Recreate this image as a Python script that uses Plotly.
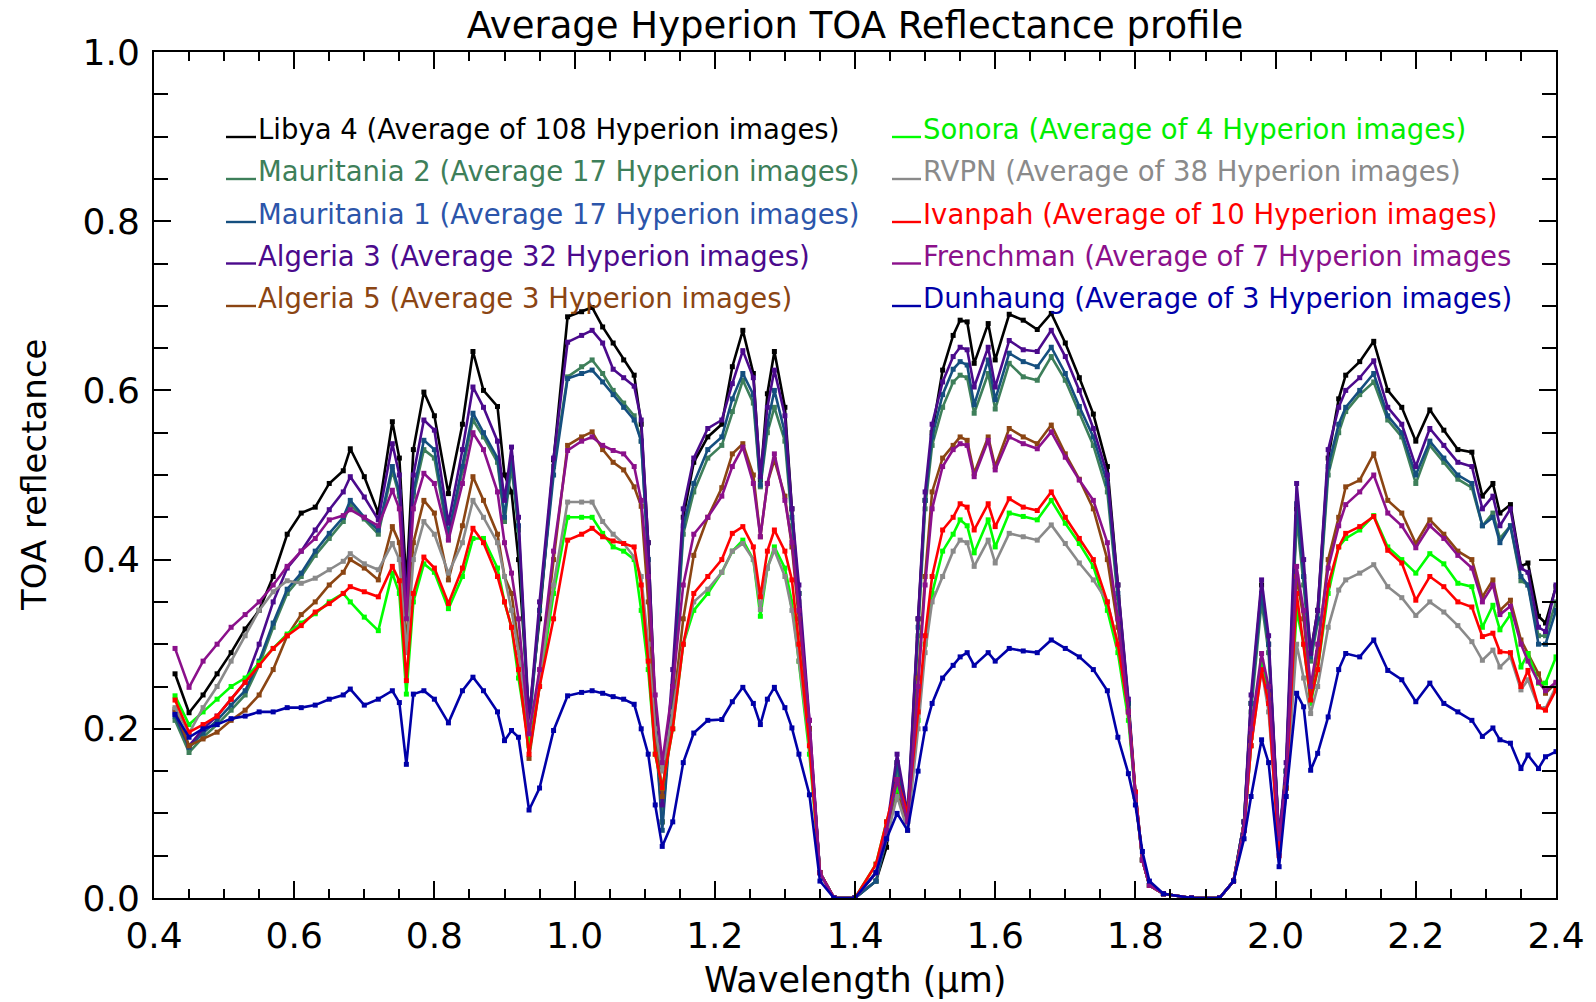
import plotly.graph_objects as go

# Wavelength grid (micrometres)
wavelength = [
    0.43, 0.45, 0.47, 0.49, 0.51, 0.53, 0.55, 0.57, 0.59, 0.61,
    0.63, 0.65, 0.67, 0.68, 0.70, 0.72, 0.74, 0.75, 0.76, 0.77,
    0.785, 0.80, 0.82, 0.84, 0.855, 0.87, 0.89, 0.90, 0.91, 0.92,
    0.935, 0.95, 0.97, 0.99, 1.01, 1.025, 1.04, 1.055, 1.07, 1.085,
    1.095, 1.105, 1.115, 1.125, 1.14, 1.155, 1.17, 1.19, 1.21, 1.225,
    1.24, 1.255, 1.265, 1.275, 1.285, 1.30, 1.31, 1.32, 1.335, 1.35,
    1.37, 1.40, 1.43, 1.445, 1.46, 1.475, 1.49, 1.50, 1.51, 1.525,
    1.54, 1.55, 1.56, 1.57, 1.59, 1.60, 1.62, 1.64, 1.66, 1.68,
    1.70, 1.72, 1.74, 1.76, 1.775, 1.79, 1.80, 1.81, 1.82, 1.84,
    1.88, 1.92, 1.94, 1.955, 1.965, 1.98, 1.99, 2.005, 2.015, 2.03,
    2.04, 2.05, 2.06, 2.075, 2.09, 2.10, 2.12, 2.14, 2.16, 2.18,
    2.20, 2.22, 2.24, 2.26, 2.28, 2.295, 2.31, 2.32, 2.335, 2.35,
    2.36, 2.375, 2.385, 2.40,
]

libya4 = [
    0.265, 0.219, 0.24, 0.265, 0.29, 0.318, 0.34, 0.38, 0.43, 0.455,
    0.462, 0.49, 0.505, 0.531, 0.498, 0.455, 0.563, 0.52, 0.37, 0.53,
    0.598, 0.57, 0.478, 0.56, 0.646, 0.60, 0.581, 0.50, 0.48, 0.40,
    0.215, 0.33, 0.518, 0.687, 0.693, 0.698, 0.675, 0.656, 0.636, 0.618,
    0.56, 0.42, 0.22, 0.09, 0.25, 0.45, 0.515, 0.545, 0.56, 0.628,
    0.671, 0.62, 0.494, 0.596, 0.646, 0.58, 0.46, 0.36, 0.20, 0.03,
    0.0, 0.0, 0.02, 0.06, 0.16, 0.09, 0.33, 0.47, 0.55, 0.624,
    0.665, 0.683, 0.681, 0.632, 0.679, 0.636, 0.69, 0.683, 0.672, 0.691,
    0.656, 0.615, 0.572, 0.51, 0.37, 0.23, 0.125, 0.045, 0.015, 0.005,
    0.0, 0.0, 0.02, 0.09, 0.23, 0.37, 0.30, 0.07, 0.15, 0.46,
    0.38, 0.29, 0.34, 0.52, 0.59, 0.618, 0.634, 0.658, 0.60, 0.58,
    0.54, 0.577, 0.553, 0.53, 0.527, 0.475, 0.49, 0.455, 0.465, 0.392,
    0.396, 0.333, 0.325, 0.368,
]

mauritania2 = [
    0.21, 0.172, 0.19, 0.205, 0.222, 0.24, 0.275, 0.32, 0.36, 0.38,
    0.405, 0.425, 0.445, 0.465, 0.448, 0.43, 0.505, 0.475, 0.335, 0.475,
    0.53, 0.52, 0.425, 0.505, 0.565, 0.545, 0.515, 0.445, 0.51, 0.435,
    0.20, 0.34, 0.51, 0.616, 0.628, 0.636, 0.62, 0.60, 0.585, 0.57,
    0.54, 0.40, 0.20, 0.09, 0.24, 0.43, 0.48, 0.52, 0.535, 0.575,
    0.612, 0.585, 0.486, 0.55, 0.58, 0.54, 0.44, 0.35, 0.20, 0.03,
    0.0, 0.0, 0.02, 0.07, 0.15, 0.09, 0.31, 0.46, 0.535, 0.58,
    0.61, 0.618, 0.615, 0.573, 0.62, 0.578, 0.632, 0.616, 0.612, 0.64,
    0.612, 0.573, 0.535, 0.48, 0.355, 0.225, 0.12, 0.045, 0.015, 0.005,
    0.0, 0.0, 0.02, 0.09, 0.22, 0.35, 0.29, 0.07, 0.15, 0.45,
    0.37, 0.28, 0.325, 0.50, 0.55, 0.575, 0.595, 0.61, 0.565, 0.545,
    0.49, 0.535, 0.515, 0.495, 0.485, 0.44, 0.455, 0.425, 0.44, 0.375,
    0.37, 0.31, 0.31, 0.35,
]

mauritania1 = [
    0.215, 0.178, 0.195, 0.21, 0.228, 0.245, 0.28, 0.325, 0.365, 0.384,
    0.41, 0.431, 0.45, 0.47, 0.45, 0.435, 0.51, 0.48, 0.34, 0.48,
    0.541, 0.53, 0.43, 0.51, 0.573, 0.55, 0.52, 0.45, 0.52, 0.44,
    0.20, 0.34, 0.50, 0.614, 0.62, 0.624, 0.61, 0.595, 0.58, 0.565,
    0.54, 0.40, 0.20, 0.08, 0.24, 0.44, 0.49, 0.53, 0.545, 0.59,
    0.62, 0.595, 0.488, 0.56, 0.60, 0.55, 0.45, 0.36, 0.20, 0.03,
    0.0, 0.0, 0.02, 0.07, 0.16, 0.09, 0.32, 0.47, 0.545, 0.595,
    0.625, 0.634, 0.63, 0.583, 0.636, 0.589, 0.644, 0.634, 0.628, 0.651,
    0.62, 0.581, 0.545, 0.49, 0.36, 0.23, 0.12, 0.045, 0.015, 0.005,
    0.0, 0.0, 0.02, 0.09, 0.23, 0.36, 0.30, 0.07, 0.15, 0.466,
    0.38, 0.285, 0.33, 0.51, 0.56, 0.58, 0.60, 0.62, 0.57, 0.55,
    0.50, 0.54, 0.52, 0.50, 0.49, 0.44, 0.45, 0.42, 0.44, 0.38,
    0.37, 0.30, 0.30, 0.34,
]

algeria3 = [
    0.22, 0.18, 0.20, 0.215, 0.235, 0.255, 0.30, 0.35, 0.39, 0.41,
    0.435, 0.459, 0.48, 0.498, 0.474, 0.447, 0.537, 0.50, 0.35, 0.50,
    0.565, 0.553, 0.443, 0.53, 0.604, 0.58, 0.54, 0.47, 0.533, 0.45,
    0.21, 0.35, 0.52, 0.657, 0.665, 0.671, 0.656, 0.625, 0.615, 0.605,
    0.565, 0.42, 0.22, 0.11, 0.27, 0.46, 0.52, 0.555, 0.565, 0.608,
    0.647, 0.615, 0.498, 0.58, 0.624, 0.57, 0.46, 0.37, 0.21, 0.03,
    0.0, 0.0, 0.03, 0.08, 0.17, 0.10, 0.33, 0.48, 0.56, 0.61,
    0.64, 0.651, 0.648, 0.604, 0.651, 0.604, 0.659, 0.648, 0.646, 0.671,
    0.64, 0.60, 0.555, 0.50, 0.37, 0.235, 0.125, 0.045, 0.015, 0.005,
    0.0, 0.0, 0.02, 0.09, 0.24, 0.376, 0.31, 0.07, 0.16, 0.49,
    0.40, 0.289, 0.34, 0.53, 0.58, 0.60, 0.615, 0.635, 0.58, 0.56,
    0.51, 0.555, 0.535, 0.515, 0.51, 0.46, 0.475, 0.44, 0.46, 0.39,
    0.385, 0.32, 0.315, 0.37,
]

algeria5 = [
    0.223, 0.18, 0.188, 0.196, 0.21, 0.222, 0.24, 0.27, 0.31, 0.335,
    0.35, 0.37, 0.385, 0.40, 0.39, 0.376, 0.439, 0.42, 0.30, 0.42,
    0.47, 0.455, 0.376, 0.44, 0.498, 0.47, 0.43, 0.38, 0.36, 0.30,
    0.165, 0.25, 0.40, 0.535, 0.545, 0.551, 0.53, 0.515, 0.506, 0.486,
    0.463, 0.35, 0.20, 0.12, 0.22, 0.33, 0.405, 0.45, 0.485, 0.525,
    0.537, 0.50, 0.427, 0.49, 0.518, 0.475, 0.415, 0.33, 0.20, 0.03,
    0.0, 0.0, 0.03, 0.07, 0.13, 0.08, 0.26, 0.38, 0.48, 0.52,
    0.535, 0.545, 0.541, 0.502, 0.545, 0.51, 0.555, 0.545, 0.537, 0.559,
    0.525, 0.495, 0.46, 0.40, 0.32, 0.22, 0.12, 0.045, 0.015, 0.005,
    0.0, 0.0, 0.02, 0.08, 0.19, 0.28, 0.24, 0.06, 0.13, 0.38,
    0.33, 0.24, 0.29, 0.40, 0.45, 0.486, 0.494, 0.525, 0.47, 0.455,
    0.419, 0.447, 0.43, 0.41, 0.40, 0.356, 0.376, 0.34, 0.352, 0.305,
    0.289, 0.265, 0.242, 0.254,
]

sonora = [
    0.239, 0.205, 0.22, 0.235, 0.25, 0.26, 0.278, 0.295, 0.312, 0.325,
    0.336, 0.35, 0.36, 0.35, 0.332, 0.316, 0.384, 0.36, 0.241, 0.35,
    0.395, 0.385, 0.342, 0.38, 0.425, 0.425, 0.39, 0.35, 0.32, 0.26,
    0.18, 0.25, 0.36, 0.45, 0.45, 0.45, 0.431, 0.415, 0.41, 0.40,
    0.34, 0.27, 0.17, 0.13, 0.20, 0.30, 0.34, 0.36, 0.385, 0.41,
    0.423, 0.40, 0.333, 0.39, 0.415, 0.39, 0.35, 0.28, 0.17, 0.03,
    0.0, 0.0, 0.04, 0.09, 0.13, 0.10, 0.21, 0.30, 0.36, 0.41,
    0.43, 0.447, 0.44, 0.408, 0.447, 0.415, 0.455, 0.451, 0.447, 0.47,
    0.443, 0.419, 0.392, 0.34, 0.29, 0.21, 0.12, 0.045, 0.015, 0.005,
    0.0, 0.0, 0.02, 0.08, 0.18, 0.28, 0.23, 0.06, 0.13, 0.34,
    0.30, 0.23, 0.27, 0.36, 0.415, 0.425, 0.435, 0.452, 0.415, 0.40,
    0.384, 0.407, 0.395, 0.372, 0.368, 0.32, 0.346, 0.317, 0.335, 0.273,
    0.289, 0.254, 0.254, 0.285,
]

rvpn = [
    0.225, 0.195, 0.225, 0.25, 0.28, 0.31, 0.34, 0.362, 0.375, 0.372,
    0.378, 0.388, 0.398, 0.407, 0.395, 0.388, 0.419, 0.40, 0.29, 0.40,
    0.445, 0.43, 0.384, 0.42, 0.47, 0.45, 0.42, 0.38, 0.34, 0.29,
    0.20, 0.26, 0.37, 0.468, 0.468, 0.468, 0.445, 0.43, 0.419, 0.403,
    0.38, 0.30, 0.20, 0.15, 0.22, 0.30, 0.35, 0.365, 0.385, 0.41,
    0.419, 0.40, 0.341, 0.39, 0.411, 0.38, 0.34, 0.28, 0.18, 0.03,
    0.0, 0.0, 0.03, 0.07, 0.12, 0.08, 0.20, 0.29, 0.35, 0.38,
    0.41, 0.423, 0.42, 0.392, 0.423, 0.396, 0.431, 0.427, 0.423, 0.441,
    0.419, 0.396, 0.376, 0.35, 0.30, 0.22, 0.12, 0.045, 0.015, 0.005,
    0.0, 0.0, 0.02, 0.08, 0.18, 0.27, 0.22, 0.06, 0.12, 0.30,
    0.26, 0.218, 0.25, 0.32, 0.364, 0.376, 0.384, 0.394, 0.368, 0.355,
    0.334, 0.35, 0.338, 0.322, 0.303, 0.281, 0.293, 0.273, 0.285, 0.246,
    0.258, 0.226, 0.224, 0.25,
]

ivanpah = [
    0.234, 0.196, 0.205, 0.215, 0.235, 0.255, 0.275, 0.295, 0.31, 0.322,
    0.338, 0.348, 0.36, 0.368, 0.362, 0.356, 0.392, 0.375, 0.257, 0.36,
    0.403, 0.39, 0.348, 0.39, 0.437, 0.42, 0.38, 0.35, 0.32, 0.27,
    0.17, 0.25, 0.33, 0.423, 0.43, 0.437, 0.427, 0.422, 0.419, 0.415,
    0.37, 0.28, 0.17, 0.13, 0.20, 0.30, 0.36, 0.38, 0.40, 0.431,
    0.439, 0.415, 0.356, 0.41, 0.435, 0.41, 0.376, 0.30, 0.18, 0.03,
    0.0, 0.0, 0.04, 0.09, 0.14, 0.10, 0.22, 0.31, 0.38, 0.435,
    0.45, 0.466, 0.462, 0.435, 0.466, 0.439, 0.472, 0.462, 0.458, 0.48,
    0.45, 0.425, 0.40, 0.35, 0.30, 0.22, 0.125, 0.045, 0.015, 0.005,
    0.0, 0.0, 0.02, 0.08, 0.18, 0.27, 0.23, 0.05, 0.13, 0.36,
    0.30, 0.234, 0.27, 0.37, 0.415, 0.431, 0.439, 0.451, 0.411, 0.396,
    0.352, 0.38, 0.368, 0.35, 0.344, 0.309, 0.313, 0.291, 0.29, 0.25,
    0.269, 0.226, 0.222, 0.246,
]

frenchman = [
    0.295, 0.249, 0.28, 0.30, 0.32, 0.335, 0.35, 0.37, 0.392, 0.41,
    0.425, 0.447, 0.452, 0.459, 0.45, 0.44, 0.482, 0.46, 0.33, 0.46,
    0.502, 0.49, 0.423, 0.49, 0.55, 0.53, 0.48, 0.42, 0.384, 0.33,
    0.194, 0.27, 0.41, 0.529, 0.54, 0.545, 0.535, 0.529, 0.525, 0.51,
    0.47, 0.38, 0.24, 0.16, 0.25, 0.37, 0.43, 0.45, 0.475, 0.51,
    0.533, 0.49, 0.427, 0.49, 0.525, 0.47, 0.42, 0.34, 0.21, 0.03,
    0.0, 0.0, 0.03, 0.08, 0.14, 0.09, 0.25, 0.37, 0.46, 0.51,
    0.53, 0.537, 0.535, 0.498, 0.541, 0.506, 0.545, 0.537, 0.531, 0.551,
    0.521, 0.494, 0.47, 0.42, 0.33, 0.22, 0.12, 0.045, 0.015, 0.005,
    0.0, 0.0, 0.02, 0.08, 0.20, 0.289, 0.25, 0.07, 0.14, 0.392,
    0.34, 0.25, 0.30, 0.39, 0.44, 0.465, 0.48, 0.50, 0.455, 0.44,
    0.414, 0.44, 0.425, 0.405, 0.39, 0.35, 0.37, 0.335, 0.345, 0.30,
    0.28, 0.255, 0.245, 0.255,
]

dunhaung = [
    0.217, 0.19, 0.20, 0.205, 0.212, 0.215, 0.22, 0.22, 0.225, 0.225,
    0.228, 0.235, 0.24, 0.247, 0.228, 0.235, 0.245, 0.231, 0.158, 0.241,
    0.245, 0.235, 0.207, 0.245, 0.261, 0.245, 0.22, 0.186, 0.198, 0.19,
    0.104, 0.13, 0.198, 0.239, 0.243, 0.245, 0.242, 0.238, 0.235, 0.229,
    0.20, 0.17, 0.11, 0.061, 0.09, 0.16, 0.195, 0.21, 0.211, 0.232,
    0.249, 0.23, 0.205, 0.235, 0.249, 0.225, 0.201, 0.17, 0.122, 0.02,
    0.0, 0.0, 0.03, 0.07, 0.10, 0.08, 0.15, 0.20, 0.23, 0.26,
    0.275, 0.285, 0.29, 0.275, 0.29, 0.28, 0.295, 0.292, 0.29, 0.305,
    0.295, 0.285, 0.27, 0.245, 0.19, 0.147, 0.11, 0.055, 0.02, 0.005,
    0.0, 0.0, 0.02, 0.07, 0.12, 0.187, 0.16, 0.037, 0.12, 0.242,
    0.226, 0.151, 0.171, 0.214, 0.27, 0.289, 0.285, 0.305, 0.269, 0.258,
    0.232, 0.254, 0.23, 0.22, 0.21, 0.191, 0.201, 0.187, 0.183, 0.153,
    0.169, 0.153, 0.167, 0.173,
]

series_names = [
    "Libya 4 (Average of 108 Hyperion images)",
    "Mauritania 2 (Average 17 Hyperion images)",
    "Mauritania 1 (Average 17 Hyperion images)",
    "Algeria 3 (Average 32 Hyperion images)",
    "Algeria 5 (Average 3 Hyperion images)",
    "Sonora (Average of 4 Hyperion images)",
    "RVPN (Average of 38 Hyperion images)",
    "Ivanpah (Average of 10 Hyperion images)",
    "Frenchman (Average of 7 Hyperion images",
    "Dunhaung (Average of 3 Hyperion images)",
]
series_values = [libya4, mauritania2, mauritania1, algeria3, algeria5,
                 sonora, rvpn, ivanpah, frenchman, dunhaung]
line_colors = ["#000000", "#3e7f5a", "#154f7f", "#4b0a8c", "#8b4513",
               "#00ff00", "#8a8a8a", "#ff0000", "#8b108b", "#0000a8"]
text_colors = ["#000000", "#3e7f5a", "#2c55aa", "#4b0a8c", "#8b4513",
               "#00ee00", "#8a8a8a", "#ff0000", "#8b108b", "#0000a8"]

for v in series_values:
    if len(v) != len(wavelength):
        raise ValueError(f"length mismatch {len(v)} vs {len(wavelength)}")

FONT = "DejaVu Sans"
fig = go.Figure()
for name, vals, col in zip(series_names, series_values, line_colors):
    fig.add_trace(go.Scatter(
        x=wavelength, y=vals, name=name, mode="lines+markers",
        line=dict(color=col, width=2.6),
        marker=dict(symbol="square", size=5, color=col),
        showlegend=False,
    ))

W, H = 1596, 1002
L, T = 154, 52
PW, PH = 1402, 846
fig.update_layout(
    width=W, height=H,
    margin=dict(l=L, t=T, r=W - L - PW, b=H - T - PH, pad=0),
    paper_bgcolor="white", plot_bgcolor="white",
    font=dict(family=FONT, color="black"),
    title=dict(text="Average Hyperion TOA Reflectance profile",
               x=0.5, xref="paper", xanchor="center",
               y=1 - 25 / H, yref="container", yanchor="middle",
               font=dict(size=37, family=FONT, color="black")),
    showlegend=False,
)

axis_common = dict(
    showline=True, linecolor="black", linewidth=2, mirror="ticks",
    ticks="inside", tickcolor="black", tickwidth=1.6, ticklen=17,
    showgrid=False, zeroline=False,
    tickfont=dict(size=36, family=FONT, color="black"),
)
fig.update_xaxes(range=[0.4, 2.4], dtick=0.2, tick0=0.4, tickformat=".1f",
                 minor=dict(dtick=0.05, ticklen=9, ticks="inside",
                            tickcolor="black", tickwidth=1.6),
                 ticklabelstandoff=5, **axis_common)
fig.update_yaxes(range=[0, 1.0], dtick=0.2, tick0=0, tickformat=".1f",
                 minor=dict(dtick=0.05, ticklen=14, ticks="inside",
                            tickcolor="black", tickwidth=1.6),
                 ticklabelstandoff=5, **axis_common)

# axis titles
fig.add_annotation(text="Wavelength (\u00b5m)", xref="paper", yref="paper",
                   x=0.5, y=-(980 - 898) / PH, xanchor="center", yanchor="middle",
                   showarrow=False, font=dict(size=35, family=FONT, color="black"))
fig.add_annotation(text="TOA reflectance", xref="paper", yref="paper",
                   x=-(154 - 34) / PW, y=(898 - 475) / PH, xanchor="center",
                   yanchor="middle", textangle=-90, showarrow=False,
                   font=dict(size=34, family=FONT, color="black"))

# legend drawn as annotations + short line samples (two columns of five)
row_px = [129, 171, 214, 255.5, 298]
col_line_px = [(226, 256), (892, 921)]
for i, (name, col, tcol) in enumerate(zip(series_names, line_colors, text_colors)):
    c = i // 5
    r = i % 5
    x0p, x1p = col_line_px[c]
    yc = (898 - row_px[r]) / PH
    yl = (898 - row_px[r] - 8) / PH
    fig.add_shape(type="line", xref="paper", yref="paper",
                  x0=(x0p - 154) / PW, x1=(x1p - 154) / PW, y0=yl, y1=yl,
                  line=dict(color=col, width=2.4))
    fig.add_annotation(text=name, xref="paper", yref="paper",
                       x=(x1p - 154) / PW, y=yc, xanchor="left", yanchor="middle",
                       showarrow=False,
                       font=dict(size=27.5, family=FONT, color=tcol))

fig.write_html(
    "out.html",
    config={"displayModeBar": False},
    post_script="document.body.style.margin='0';document.body.style.overflow='hidden';",
)
